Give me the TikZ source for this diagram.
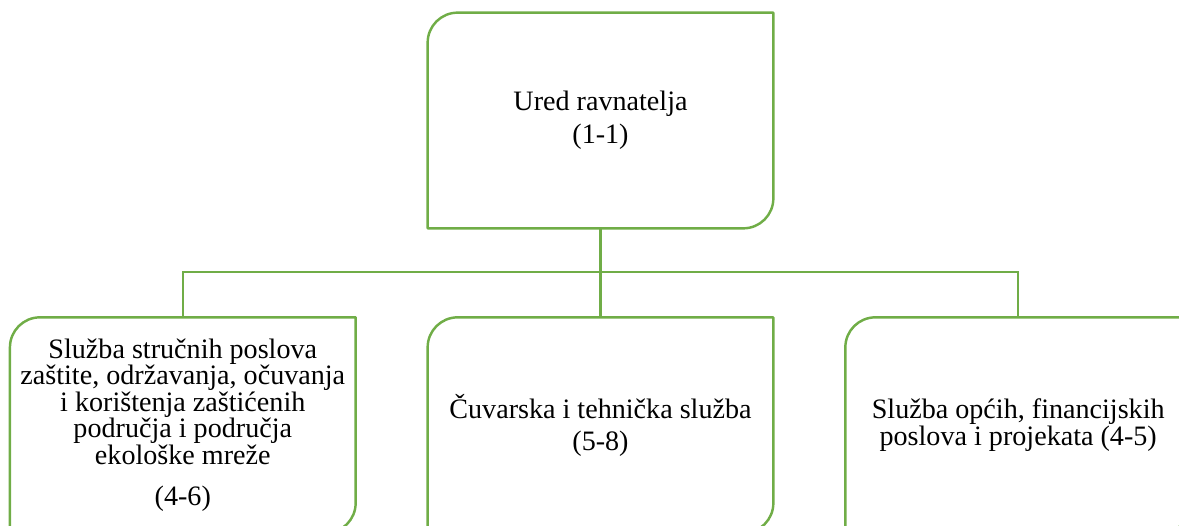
\documentclass[tikz,border=0pt]{standalone}
\usepackage{fontspec}
\setmainfont{Liberation Serif}
\usepackage{tikz}
\usetikzlibrary{positioning}
\definecolor{zelena}{HTML}{70AD47}
\tikzstyle{sluzba}=[minimum width=6.9cm, minimum height=4.3cm, inner sep=0pt, align=center, font=\fontsize{16}{15}\selectfont]
\tikzstyle{okvir}=[draw=zelena, line width=1.4pt, line join=round]
\tikzstyle{veza}=[draw=zelena, line width=1.3pt]

\begin{document}
\begin{tikzpicture}
            \useasboundingbox (0,0) rectangle (23.58,-10.52);
            \clip (0,0) rectangle (23.58,-10.52);

            \node[sluzba] (ured) at (12.01,-2.41) {Ured ravnatelja\\[3.5pt](1-1)};
            \node[sluzba, below=1.78cm of ured] (cuvarska) {Čuvarska i tehnička služba\\[3pt](5-8)};
            \node[sluzba, left=1.44cm of cuvarska] (strucna) {Služba stručnih poslova\\zaštite, održavanja, očuvanja\\i korištenja zaštićenih\\područja i područja\\ekološke mreže\\[8.5pt](4-6)};
            \node[sluzba, right=1.44cm of cuvarska] (opca) {Služba općih, financijskih\\[0.8pt]poslova i projekata (4-5)};
            \coordinate[below=0.88cm of ured.south] (racva);

            \foreach \n in {ured, strucna, cuvarska, opca}
                \draw[okvir] (\n.north east) -- ([yshift=0.6cm]\n.south east)
                    arc[start angle=0, end angle=-90, radius=0.6cm]
                    -- (\n.south west) -- ([yshift=-0.6cm]\n.north west)
                    arc[start angle=180, end angle=90, radius=0.6cm] -- cycle;

            \draw[veza] (ured.south) -- (cuvarska.north);
            \draw[veza] (racva) -| (strucna.north);
            \draw[veza] (racva) -| (opca.north);
        \end{tikzpicture}
\end{document}
